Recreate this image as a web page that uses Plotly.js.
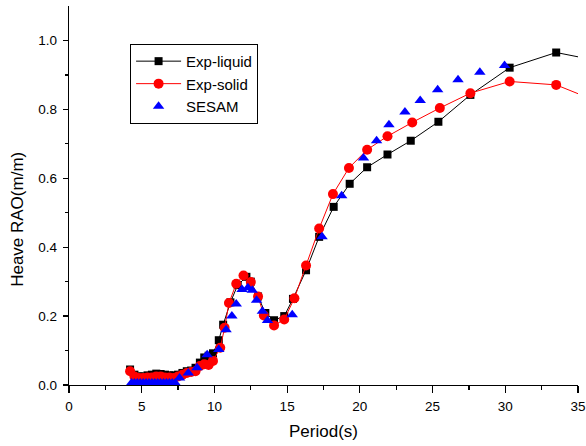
<!DOCTYPE html>
<html>
<head>
<meta charset="utf-8">
<script src="https://cdn.plot.ly/plotly-3.0.1.min.js"></script>
<style>html,body{margin:0;padding:0;background:#fff;}#chart{width:586px;height:446px;}</style>
</head>
<body>
<div id="chart"></div>
<script>
// Exp-liquid
const liquidX = [4.2,4.5,4.8,5.1,5.4,5.7,6.0,6.3,6.6,6.9,7.2,7.5,7.8,8.1,8.4,8.7,9.0,9.3,9.6,9.9,10.3,10.6,11.1,11.6,12.2,12.5,13.0,13.5,14.1,14.8,15.4,16.3,17.2,18.2,19.3,20.5,21.9,23.5,25.4,27.6,30.3,33.5,36.5];
const liquidY = [0.045,0.03,0.025,0.025,0.028,0.03,0.033,0.032,0.03,0.028,0.028,0.03,0.035,0.04,0.042,0.05,0.065,0.08,0.085,0.092,0.13,0.175,0.24,0.29,0.314,0.30,0.257,0.209,0.188,0.20,0.25,0.333,0.43,0.517,0.584,0.632,0.669,0.709,0.764,0.842,0.921,0.965,0.94];
// Exp-solid
const solidX = [4.2,4.5,4.8,5.1,5.4,5.7,6.0,6.3,6.6,6.9,7.2,7.5,7.8,8.1,8.4,8.7,9.0,9.3,9.6,9.9,10.4,10.7,11.0,11.5,12.0,12.5,13.0,13.4,14.1,14.8,15.5,16.3,17.2,18.15,19.25,20.5,21.9,23.6,25.5,27.6,30.3,33.5,36.5];
const solidY = [0.04,0.025,0.02,0.02,0.022,0.022,0.025,0.025,0.022,0.022,0.02,0.025,0.03,0.035,0.038,0.04,0.055,0.06,0.058,0.07,0.108,0.166,0.238,0.294,0.318,0.299,0.257,0.202,0.173,0.19,0.252,0.347,0.454,0.554,0.63,0.683,0.722,0.762,0.804,0.847,0.881,0.871,0.82];
// SESAM
const sesamX = [4.3,4.5,4.7,4.9,5.1,5.3,5.5,5.7,5.9,6.1,6.3,6.5,6.7,6.9,7.1,7.3,7.6,8.2,8.8,9.5,10.3,10.8,11.2,11.5,11.9,12.3,12.6,12.9,13.3,13.65,15.35,17.4,18.75,20.25,21.15,22.0,23.1,24.15,25.35,26.75,28.25,29.95];
const sesamY = [0.006,0.006,0.006,0.006,0.006,0.006,0.006,0.006,0.006,0.006,0.006,0.006,0.006,0.006,0.006,0.006,0.02,0.035,0.05,0.088,0.103,0.16,0.20,0.235,0.277,0.282,0.275,0.246,0.214,0.187,0.204,0.43,0.549,0.659,0.709,0.755,0.792,0.826,0.857,0.886,0.908,0.927];

const xTickVals = [0,5,10,15,20,25,30,35];
const yTickVals = [0,0.2,0.4,0.6,0.8,1.0];
const xTitle = 'Period(s)';
const yTitle = 'Heave RAO(m/m)';

const font = 'Arial, "Liberation Sans", sans-serif';

const traces = [
  {x: liquidX, y: liquidY, name: 'Exp-liquid', type: 'scatter', mode: 'lines+markers',
   line: {color: '#000000', width: 1}, marker: {symbol: 'square', size: 8, color: '#000000'}, cliponaxis: true},
  {x: solidX, y: solidY, name: 'Exp-solid', type: 'scatter', mode: 'lines+markers',
   line: {color: '#ff0000', width: 1}, marker: {symbol: 'circle', size: 10, color: '#ff0000'}, cliponaxis: true},
  {x: sesamX, y: sesamY, name: 'SESAM', type: 'scatter', mode: 'markers',
   marker: {symbol: 'triangle-up', size: 10, color: '#0000ff'}, cliponaxis: true}
];

const layout = {
  width: 586, height: 446,
  margin: {l: 69, r: 8, t: 6, b: 61},
  paper_bgcolor: '#ffffff', plot_bgcolor: '#ffffff',
  font: {family: font, color: '#000', size: 13},
  showlegend: true,
  legend: {x: 0.12, y: 0.9, xanchor: 'left', yanchor: 'top', itemwidth: 45,
           bordercolor: '#000', borderwidth: 1, bgcolor: '#ffffff',
           font: {family: font, size: 15, color: '#000'}, tracegroupgap: 0},
  xaxis: {
    range: [0, 35], showgrid: false, zeroline: false,
    showline: true, linecolor: '#000', linewidth: 1.2, mirror: false,
    tickmode: 'array', tickvals: xTickVals, ticktext: xTickVals.map(String),
    ticks: 'outside', ticklen: 7, tickwidth: 1.2, tickcolor: '#000', ticklabelstandoff: 2,
    minor: {tickmode: 'array', tickvals: [2.5,7.5,12.5,17.5,22.5,27.5,32.5], ticks: 'outside', ticklen: 4, tickwidth: 1.2, tickcolor: '#000', showgrid: false},
    tickfont: {family: font, size: 13.5, color: '#000'},
    title: {text: xTitle, font: {family: font, size: 17, color: '#000'}, standoff: 11}
  },
  yaxis: {
    range: [0, 1.1], showgrid: false, zeroline: false,
    showline: true, linecolor: '#000', linewidth: 1.2, mirror: false,
    tickmode: 'array', tickvals: yTickVals, ticktext: yTickVals.map(v => v.toFixed(1)),
    ticks: 'outside', ticklen: 5, tickwidth: 1.2, tickcolor: '#000', ticklabelstandoff: 3,
    minor: {tickmode: 'array', tickvals: [0.1,0.3,0.5,0.7,0.9], ticks: 'outside', ticklen: 3, tickwidth: 1.2, tickcolor: '#000', showgrid: false},
    tickfont: {family: font, size: 13.5, color: '#000'}
  },
  annotations: [
    {text: yTitle, xref: 'paper', yref: 'paper', x: -0.1, y: 0.436, xanchor: 'center', yanchor: 'middle',
     textangle: -90, showarrow: false, font: {family: font, size: 17, color: '#000'}}
  ]
};

Plotly.newPlot('chart', traces, layout, {displayModeBar: false, staticPlot: true});
</script>
</body>
</html>
